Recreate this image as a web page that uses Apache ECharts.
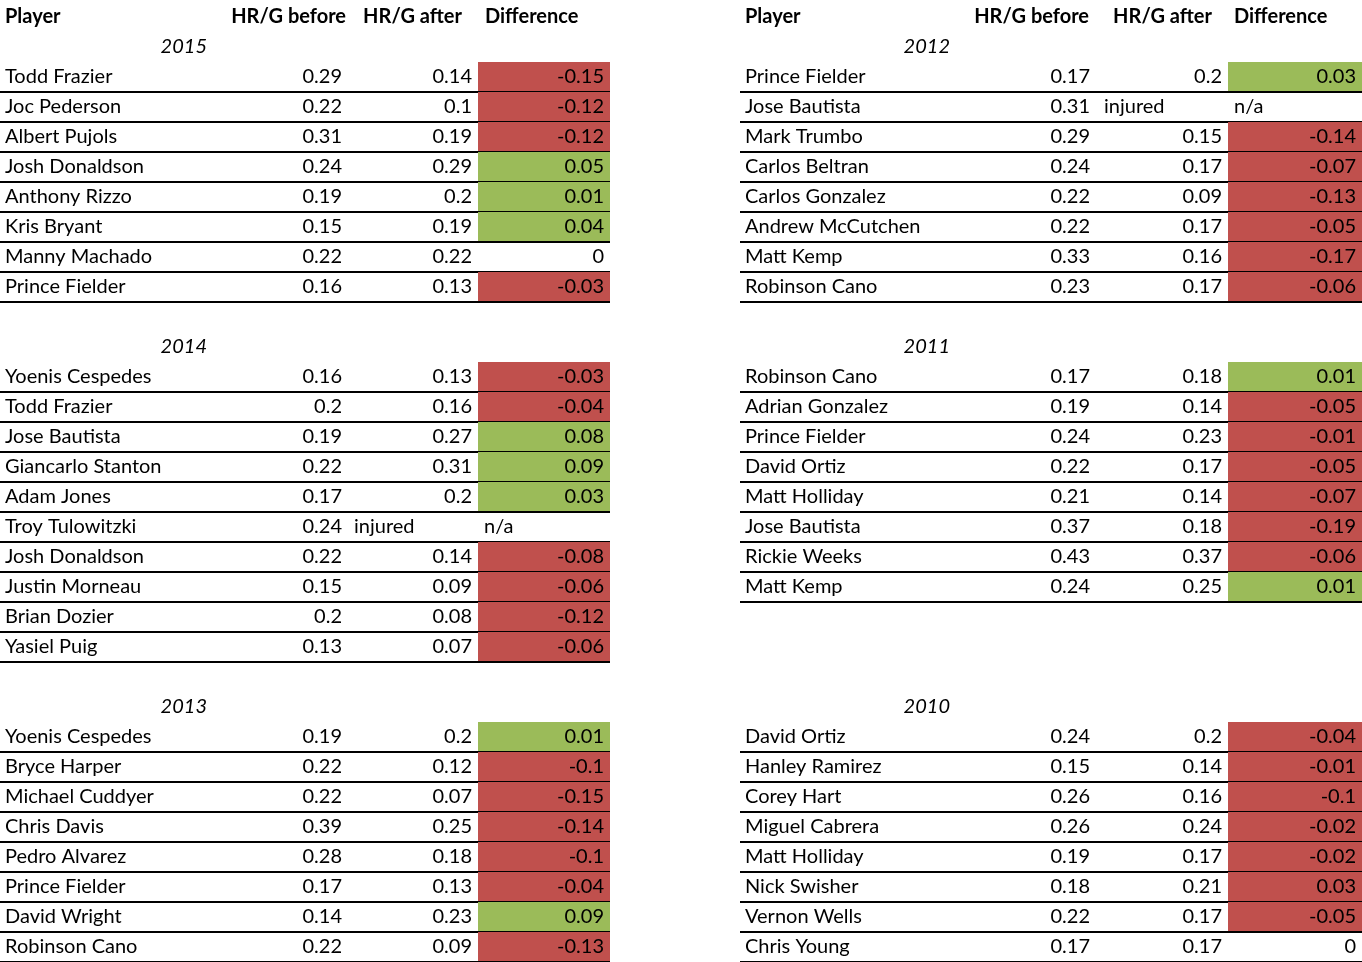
<!DOCTYPE html>
<html><head><meta charset="utf-8">
<script src="https://cdn.jsdelivr.net/npm/echarts@6/dist/echarts.min.js"></script>
<style>html,body{margin:0;background:#fff}#c{width:1362px;height:962px}</style>
</head><body><div id="c"></div>
<script>
const headers = ['Player','HR/G before','HR/G after','Difference'];
// sections: year, table side (0 left, 1 right), start row
const years = ['2015','2014','2013','2012','2011','2010'];
const sides = [0,0,0,1,1,1];
const startRows = [1,11,23,1,11,23];
const players2015 = ['Todd Frazier','Joc Pederson','Albert Pujols','Josh Donaldson','Anthony Rizzo','Kris Bryant','Manny Machado','Prince Fielder'];
const before2015 = ['0.29','0.22','0.31','0.24','0.19','0.15','0.22','0.16'];
const after2015 = ['0.14','0.1','0.19','0.29','0.2','0.19','0.22','0.13'];
const diff2015 = ['-0.15','-0.12','-0.12','0.05','0.01','0.04','0','-0.03'];
const players2014 = ['Yoenis Cespedes','Todd Frazier','Jose Bautista','Giancarlo Stanton','Adam Jones','Troy Tulowitzki','Josh Donaldson','Justin Morneau','Brian Dozier','Yasiel Puig'];
const before2014 = ['0.16','0.2','0.19','0.22','0.17','0.24','0.22','0.15','0.2','0.13'];
const after2014 = ['0.13','0.16','0.27','0.31','0.2','injured','0.14','0.09','0.08','0.07'];
const diff2014 = ['-0.03','-0.04','0.08','0.09','0.03','n/a','-0.08','-0.06','-0.12','-0.06'];
const players2013 = ['Yoenis Cespedes','Bryce Harper','Michael Cuddyer','Chris Davis','Pedro Alvarez','Prince Fielder','David Wright','Robinson Cano'];
const before2013 = ['0.19','0.22','0.22','0.39','0.28','0.17','0.14','0.22'];
const after2013 = ['0.2','0.12','0.07','0.25','0.18','0.13','0.23','0.09'];
const diff2013 = ['0.01','-0.1','-0.15','-0.14','-0.1','-0.04','0.09','-0.13'];
const players2012 = ['Prince Fielder','Jose Bautista','Mark Trumbo','Carlos Beltran','Carlos Gonzalez','Andrew McCutchen','Matt Kemp','Robinson Cano'];
const before2012 = ['0.17','0.31','0.29','0.24','0.22','0.22','0.33','0.23'];
const after2012 = ['0.2','injured','0.15','0.17','0.09','0.17','0.16','0.17'];
const diff2012 = ['0.03','n/a','-0.14','-0.07','-0.13','-0.05','-0.17','-0.06'];
const players2011 = ['Robinson Cano','Adrian Gonzalez','Prince Fielder','David Ortiz','Matt Holliday','Jose Bautista','Rickie Weeks','Matt Kemp'];
const before2011 = ['0.17','0.19','0.24','0.22','0.21','0.37','0.43','0.24'];
const after2011 = ['0.18','0.14','0.23','0.17','0.14','0.18','0.37','0.25'];
const diff2011 = ['0.01','-0.05','-0.01','-0.05','-0.07','-0.19','-0.06','0.01'];
const players2010 = ['David Ortiz','Hanley Ramirez','Corey Hart','Miguel Cabrera','Matt Holliday','Nick Swisher','Vernon Wells','Chris Young'];
const before2010 = ['0.24','0.15','0.26','0.26','0.19','0.18','0.22','0.17'];
const after2010 = ['0.2','0.14','0.16','0.24','0.17','0.21','0.17','0.17'];
const diff2010 = ['-0.04','-0.01','-0.1','-0.02','-0.02','0.03','-0.05','0'];
// cell colour class per diff: 'r' red, 'g' green, '' none
const fill2015 = ['r','r','r','g','g','g','','r'];
const fill2014 = ['r','r','g','g','g','','r','r','r','r'];
const fill2013 = ['g','r','r','r','r','r','g','r'];
const fill2012 = ['g','','r','r','r','r','r','r'];
const fill2011 = ['g','r','r','r','r','r','r','g'];
const fill2010 = ['r','r','r','r','r','r','r',''];

const P=[players2015,players2014,players2013,players2012,players2011,players2010];
const B=[before2015,before2014,before2013,before2012,before2011,before2010];
const A=[after2015,after2014,after2013,after2012,after2011,after2010];
const D=[diff2015,diff2014,diff2013,diff2012,diff2011,diff2010];
const F=[fill2015,fill2014,fill2013,fill2012,fill2011,fill2010];

const data=[];
[0,1].forEach(s=>data.push({value:[s,0],kind:'h'}));
years.forEach((y,k)=>{
  data.push({value:[sides[k],startRows[k]],kind:'y',year:y});
  P[k].forEach((p,i)=>data.push({value:[sides[k],startRows[k]+1+i],kind:'d',p:p,b:B[k][i],a:A[k][i],d:D[k][i],f:F[k][i]}));
});
const FONT='Lato, "Open Sans", sans-serif';
const RED='#c0504d', GREEN='#9bbb59';
function txt(x,y,t,align,extra){return {type:'text',style:Object.assign({x:x,y:y,text:t,align:align,verticalAlign:'middle',font:'20px '+FONT,fill:'#000'},extra||{})};}
const chart=echarts.init(document.getElementById('c'));
chart.setOption({
  animation:false,
  grid:{left:0,right:0,top:0,bottom:0},
  xAxis:{type:'value',min:0,max:1362,show:false},
  yAxis:{type:'value',min:-0.567,max:31.5,inverse:true,show:false},
  series:[{type:'custom',coordinateSystem:'cartesian2d',data:data,
    renderItem:function(params,api){
      const it=data[params.dataIndex];
      const side=api.value(0), row=api.value(1);
      const off=side?740:0;
      const c=api.coord([off,row]);
      const top=api.coord([off,row-0.5])[1], bot=api.coord([off,row+0.5])[1];
      const x0=c[0], y=c[1];
      const ch=[];
      if(it.kind==='h'){
        const bold={font:'bold 20px '+FONT};
        ch.push(txt(x0+5,y,headers[0],'left',bold));
        ch.push(txt(x0+(side?349:346),y,headers[1],'right',bold));
        ch.push(txt(x0+(side?472:462),y,headers[2],'right',bold));
        ch.push(txt(x0+(side?494:485),y,headers[3],'left',bold));
      } else if(it.kind==='y'){
        ch.push(txt(x0+(side?210:207),y,it.year,'right',{font:'italic 20px '+FONT}));
      } else {
        const w=side?622:610;
        const cx=x0+(side?488:478);
        if(it.f) ch.push({type:'rect',shape:{x:cx,y:top,width:x0+w-cx,height:bot-top},style:{fill:it.f==='r'?RED:GREEN}});
        ch.push({type:'line',shape:{x1:x0,y1:bot,x2:x0+w,y2:bot},style:{stroke:'#000',lineWidth:2}});
        ch.push(txt(x0+5,y,it.p,'left'));
        ch.push(txt(x0+(side?350:342),y,it.b,'right'));
        if(it.a==='injured') ch.push(txt(x0+(side?364:354),y,it.a,'left'));
        else ch.push(txt(x0+(side?482:472),y,it.a,'right'));
        if(it.d==='n/a') ch.push(txt(x0+(side?494:484),y,it.d,'left'));
        else ch.push(txt(x0+w-6,y,it.d,'right'));
      }
      return {type:'group',children:ch};
    }}]
});
</script></body></html>
